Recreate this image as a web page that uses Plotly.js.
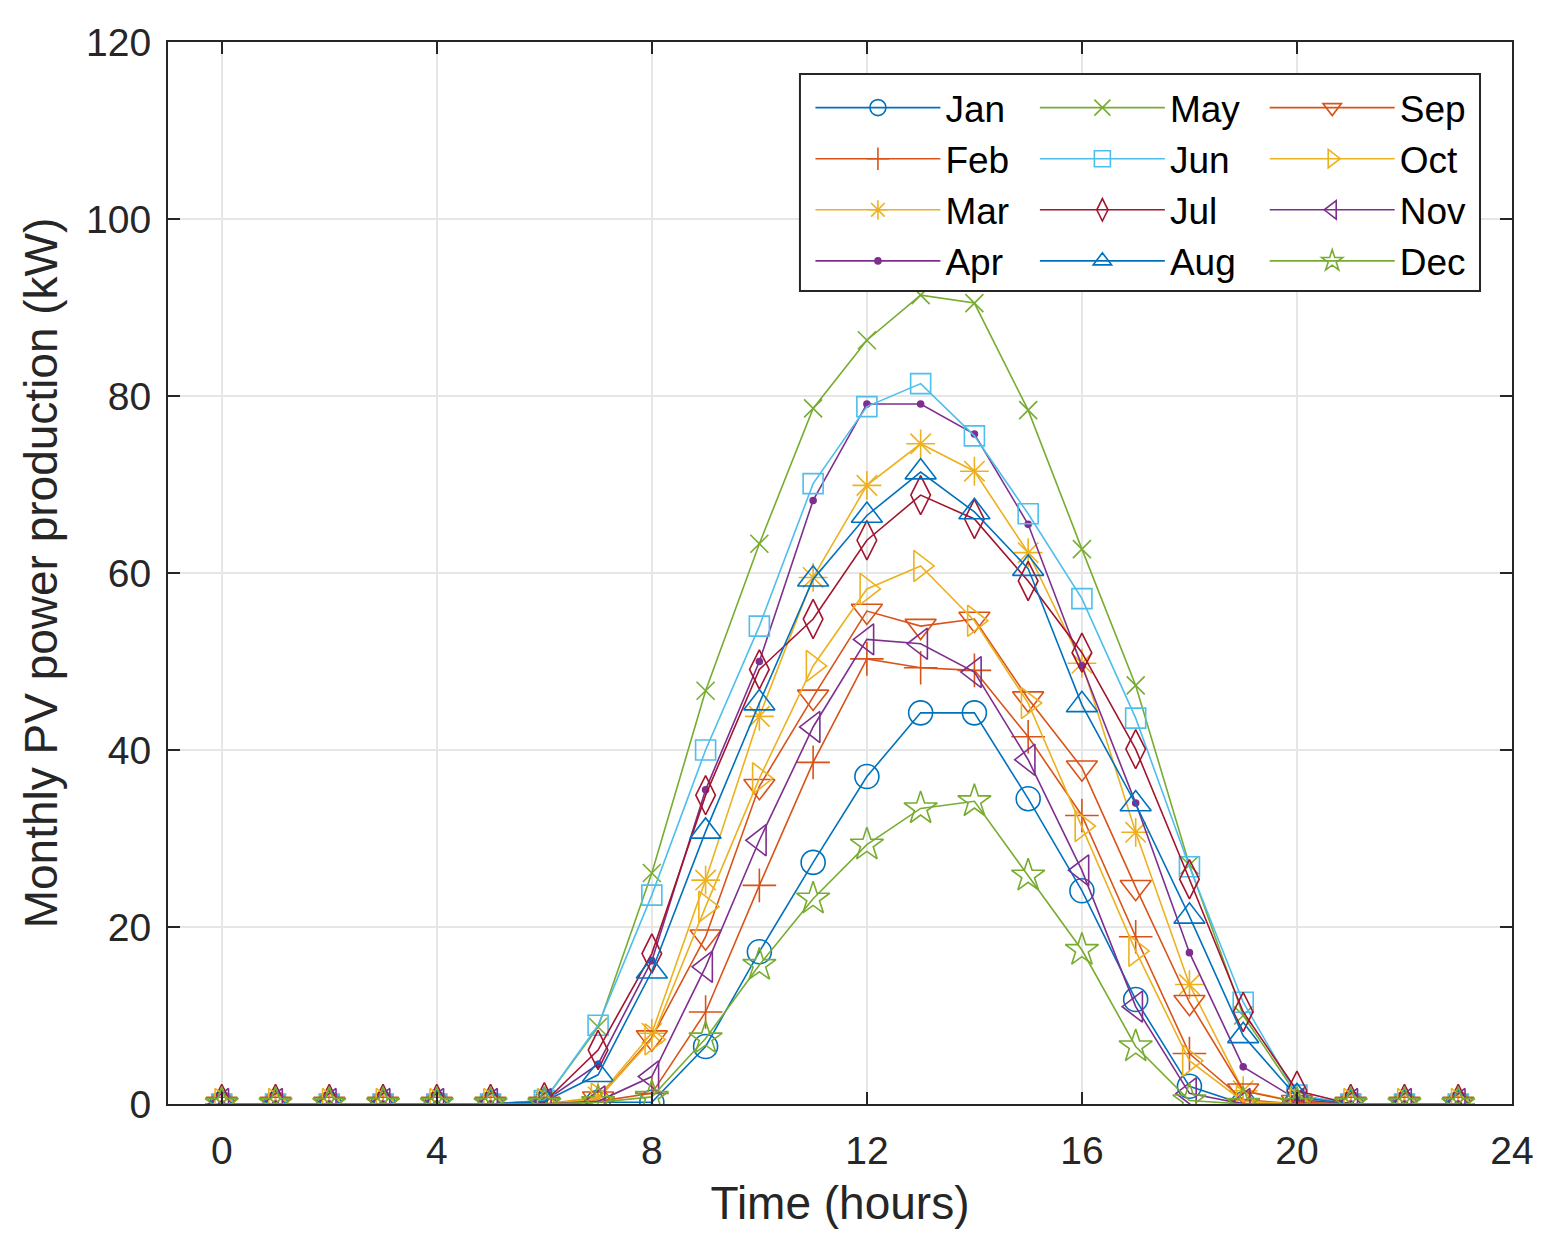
<!DOCTYPE html>
<html>
<head>
<meta charset="utf-8">
<script src="https://cdn.plot.ly/plotly-3.0.1.min.js"></script>
<style>
  body { margin: 0; background: #fff; }
  #pv_plot { width: 1553px; height: 1244px; }
</style>
</head>
<body>
<div id="pv_plot"></div>
<script>
// hourly PV power per month (kW)
var hours = [0,1,2,3,4,5,6,7,8,9,10,11,12,13,14,15,16,17,18,19,20,21,22,23];
var month_names = ["Jan","Feb","Mar","Apr","May","Jun","Jul","Aug","Sep","Oct","Nov","Dec"];

var jan = [0,0,0,0,0,0,0,0.2,0.2,6.5,17.2,27.3,37,44.2,44.2,34.5,24.1,11.8,2,0,0,0,0,0];
var feb = [0,0,0,0,0,0,0,0.3,1.2,10.4,24.7,38.6,50.3,49.3,49,41.5,32.6,18.9,5.7,0.5,0,0,0,0];
var mar = [0,0,0,0,0,0,0,0.8,8,25.3,43.8,59.5,69.9,74.6,71.5,62.3,49.8,30.7,13.5,1.5,0.3,0,0,0];
var apr = [0,0,0,0,0,0,0.3,4.5,16.2,35.5,50,68.2,79.1,79.1,75.7,65.5,49.5,34,17.1,4.2,0.5,0,0,0];
var may = [0,0,0,0,0,0,0.4,8.7,26.1,46.7,63.3,78.6,86.3,91.4,90.5,78.4,62.7,47.3,27,10,1,0,0,0];
var jun = [0,0,0,0,0,0,0.4,8.9,23.6,40,54,70.1,78.8,81.4,75.5,66.7,57.1,43.6,26.8,11.5,1,0,0,0];
var jul = [0,0,0,0,0,0,0.2,6.1,17,34.9,49.1,54.8,63.7,68.8,66.1,59.1,51,40.1,25.4,10.4,1.5,0,0,0];
var aug = [0,0,0,0,0,0,0.3,3.3,15,30.8,45.3,59.3,66.5,71.4,66.9,60.5,45.1,33.9,21.2,7.7,0.8,0,0,0];
var sep = [0,0,0,0,0,0,0,0.6,7.5,18.9,35.9,46,55.7,54,54.8,45.8,38,24.5,11.5,1.5,0.2,0,0,0];
var oct = [0,0,0,0,0,0,0,0.6,7.3,22.3,36.8,49.5,58.2,60.8,54.6,45.3,31.4,17.3,4.9,0.3,0,0,0,0];
var nov = [0,0,0,0,0,0,0,0.3,3.1,15.5,29.8,42.6,52.5,52,48.8,38.9,26.4,11,1.2,0,0,0,0,0];
var dec = [0,0,0,0,0,0,0,0.2,0.8,7.4,15.7,23.2,29.3,33.4,34.2,25.8,17.4,6.5,0.4,0,0,0,0,0];

var x_ticks = [0,4,8,12,16,20,24];
var y_ticks = [0,20,40,60,80,100,120];

function pvPlotMain() {
  var series = [jan,feb,mar,apr,may,jun,jul,aug,sep,oct,nov,dec];
  // matlab default colour order, wraps after 7
  var colors = ["#0072BD","#D95319","#EDB120","#7E2F8E","#77AC30","#4DBEEE","#A2142F",
                "#0072BD","#D95319","#EDB120","#7E2F8E","#77AC30"];
  var symbols = ["circle-open","cross-thin-open","asterisk-open","circle","x-thin-open","square-open",
                 "diamond-tall-open","triangle-up-open","triangle-down-open","triangle-right-open",
                 "triangle-left-open","star-open"];
  var sizes = [24,24,24,6,18,20,28,27,27,27,27,25];
  var legends = ["legend","legend","legend","legend","legend2","legend2","legend2","legend2",
                 "legend3","legend3","legend3","legend3"];

  var pv_data = [];
  for (var i = 0; i < series.length; i++) {
    pv_data.push({
      x: hours,
      y: series[i],
      type: 'scatter',
      mode: 'lines+markers',
      name: month_names[i],
      legend: legends[i],
      line: {color: colors[i], width: 1.6},
      marker: {symbol: symbols[i], size: sizes[i], color: colors[i],
               line: {color: colors[i], width: 1.6}}
    });
  }

  var fontFam = 'Liberation Sans, Arial, sans-serif';
  var axisFont = {family: fontFam, size: 39, color: '#262626'};
  var titleFont = {family: fontFam, size: 46, color: '#262626'};
  var legendBase = {
    bgcolor: 'rgba(0,0,0,0)',
    borderwidth: 0,
    font: {family: fontFam, size: 37, color: '#000'},
    itemwidth: 125,
    tracegroupgap: 0,
    xanchor: 'left',
    yanchor: 'top',
    y: 0.967
  };

  var layout = {
    width: 1553,
    height: 1244,
    margin: {l: 168, r: 41, t: 42, b: 140},
    paper_bgcolor: '#fff',
    plot_bgcolor: '#fff',
    showlegend: true,
    xaxis: {
      range: [-1, 24],
      tickvals: x_ticks,
      ticks: 'inside',
      ticklen: 12,
      tickwidth: 2,
      tickcolor: '#262626',
      showline: true,
      linecolor: '#262626',
      linewidth: 2,
      mirror: 'ticks',
      showgrid: true,
      gridcolor: '#e6e6e6',
      gridwidth: 2,
      zeroline: false,
      tickfont: axisFont,
      ticklabelstandoff: 11,
      title: {text: 'Time (hours)', font: titleFont, standoff: 16}
    },
    yaxis: {
      range: [0, 120],
      tickvals: y_ticks,
      ticks: 'inside',
      ticklen: 12,
      tickwidth: 2,
      tickcolor: '#262626',
      showline: true,
      linecolor: '#262626',
      linewidth: 2,
      mirror: 'ticks',
      showgrid: true,
      gridcolor: '#e6e6e6',
      gridwidth: 2,
      zeroline: false,
      tickfont: axisFont,
      ticklabelstandoff: 7,
      title: {text: 'Monthly PV power production (kW)', font: titleFont, standoff: 14}
    },
    legend: Object.assign({}, legendBase, {x: 0.478}),
    legend2: Object.assign({}, legendBase, {x: 0.645}),
    legend3: Object.assign({}, legendBase, {x: 0.816}),
    shapes: [{
      type: 'rect',
      xref: 'paper', yref: 'paper',
      x0: 0.4702, x1: 0.9762, y0: 0.7655, y1: 0.9699,
      fillcolor: '#fff',
      line: {color: '#262626', width: 2},
      layer: 'above'
    }]
  };

  Plotly.newPlot('pv_plot', pv_data, layout, {displayModeBar: false, staticPlot: true});
}

pvPlotMain();
</script>
</body>
</html>
